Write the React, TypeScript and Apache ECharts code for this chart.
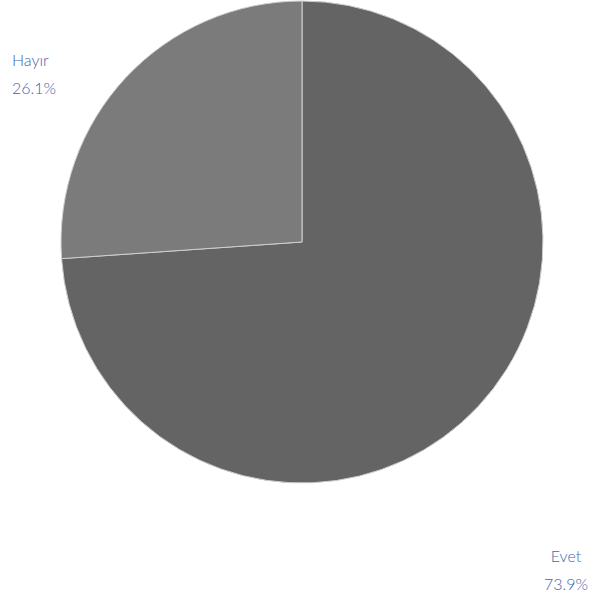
import React, { useEffect, useRef } from "react";
import * as echarts from "echarts";

const categories = ["Evet", "Hayır"];
const values = [73.9, 26.1];
const colors = ["#646464", "#7b7b7b"];

export default function App() {
  const ref = useRef<HTMLDivElement>(null);
  useEffect(() => {
    if (!ref.current) return;
    const chart = echarts.init(ref.current, null, { renderer: "svg" });
    chart.setOption({
      animation: false,
      series: [
        {
          type: "pie",
          center: [302, 242],
          radius: 241,
          startAngle: 90,
          clockwise: true,
          percentPrecision: 1,
          data: categories.map((c, i) => ({
            name: c,
            value: values[i],
            itemStyle: { color: colors[i] },
          })),
          itemStyle: { borderColor: "#cfcfcf", borderWidth: 1 },
          label: {
            show: true,
            position: "outside",
            formatter: "{b}\n{d}%",
            color: "#3f66b0",
            fontFamily: "Lato, sans-serif",
            fontWeight: 300,
            fontSize: 16,
            lineHeight: 28,
          },
          labelLine: { show: false },
          labelLayout: (params: any) => {
            if (params.dataIndex === 1) {
              return { x: 12, y: 45, align: "left", verticalAlign: "top" };
            }
            return { x: 566, y: 541, align: "center", verticalAlign: "top" };
          },
          emphasis: { disabled: true },
        },
      ],
    });
    return () => chart.dispose();
  }, []);
  return (
    <div
      ref={ref}
      style={{ position: "absolute", left: 0, top: 0, width: 597, height: 601 }}
    />
  );
}
